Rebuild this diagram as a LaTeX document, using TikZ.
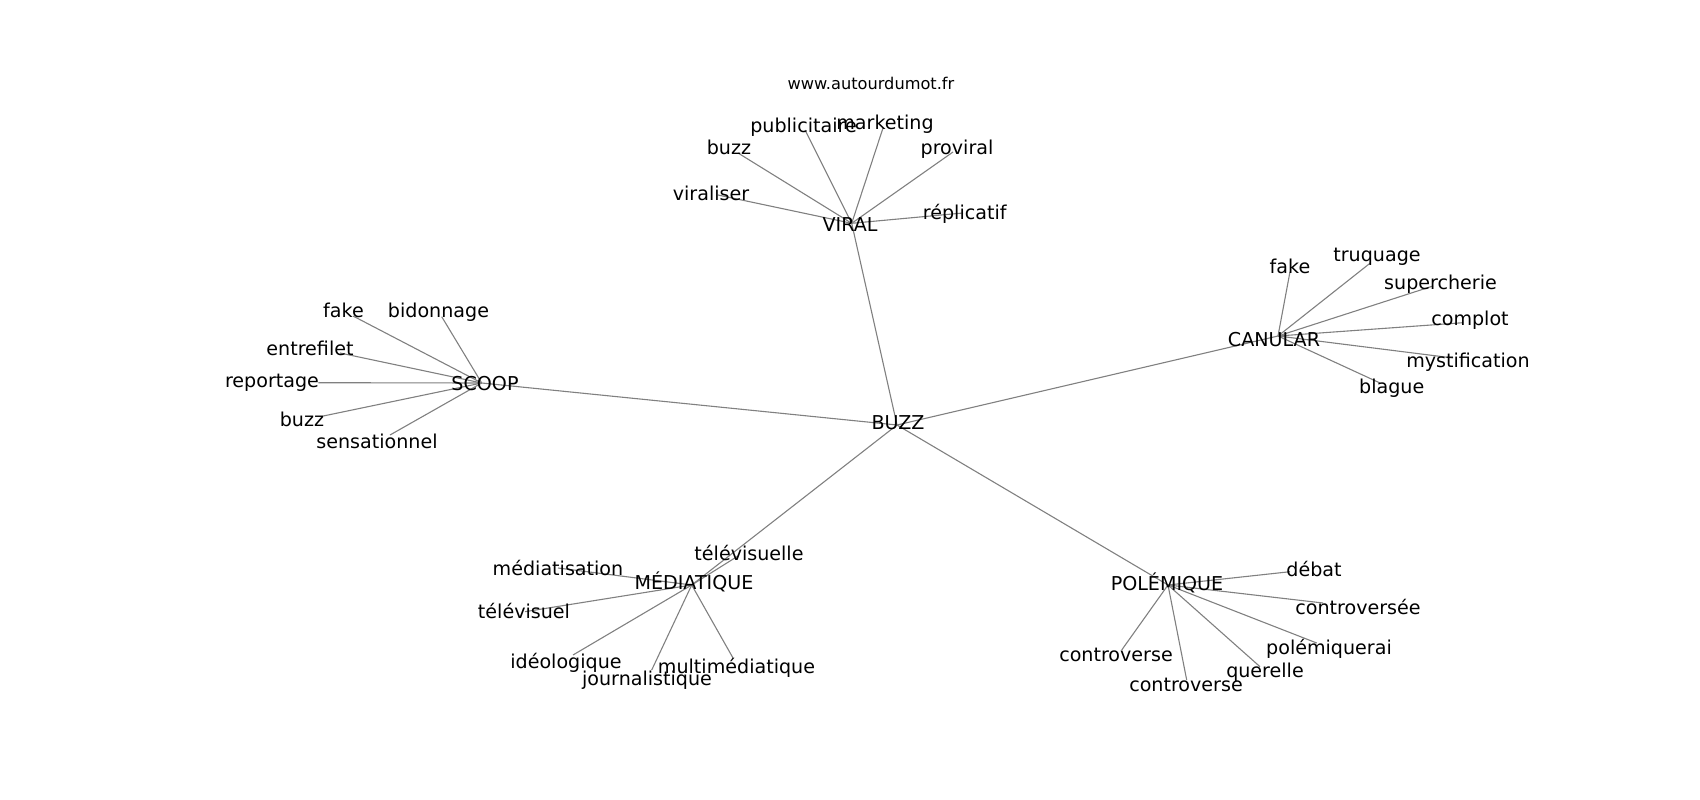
\documentclass[tikz,border=0pt]{standalone}
\usepackage{fontspec}
\setmainfont{DejaVu Sans}
\begin{document}
\begin{tikzpicture}[x=1pt,y=-1pt,
  edge/.style={draw=gray, line width=1.1pt},
  lbl/.style={inner sep=0pt, anchor=base, font=\fontsize{19.1}{23}\selectfont},
  ttl/.style={inner sep=0pt, anchor=base, font=\fontsize{16.2}{19}\selectfont}]
\useasboundingbox (0,0) rectangle (1700,800);
% hub points
\coordinate (buzz) at (897,425);
\coordinate (viral) at (851.7,223.3);
\coordinate (scoop) at (481.7,383);
\coordinate (canular) at (1278,336);
\coordinate (mediatique) at (691.7,585);
\coordinate (polemique) at (1168,585);
% viral leaves
\coordinate (v1) at (805,130);
\coordinate (v2) at (883,128);
\coordinate (v3) at (738,153);
\coordinate (v4) at (953,152);
\coordinate (v5) at (718,195);
\coordinate (v6) at (963,213);
% scoop leaves
\coordinate (s1) at (353,316);
\coordinate (s2) at (441.7,316.7);
\coordinate (s3) at (340,353);
\coordinate (s4) at (318.3,382.7);
\coordinate (s5) at (323.3,416);
\coordinate (s6) at (390,435);
% canular leaves
\coordinate (c1) at (1290,271.7);
\coordinate (c2) at (1370.7,262.7);
\coordinate (c3) at (1433,286);
\coordinate (c4) at (1463,322.7);
\coordinate (c5) at (1453,358);
\coordinate (c6) at (1380,383);
% mediatique leaves
\coordinate (m1) at (738,556);
\coordinate (m2) at (558,568);
\coordinate (m3) at (525,611.7);
\coordinate (m4) at (573,655);
\coordinate (m5) at (651.7,670);
\coordinate (m6) at (733,658);
% polemique leaves
\coordinate (p1) at (1290,571.7);
\coordinate (p2) at (1323,603);
\coordinate (p3) at (1316.7,643);
\coordinate (p4) at (1260,666.7);
\coordinate (p5) at (1121.7,650);
\coordinate (p6) at (1186.7,680);
% edges
\foreach \h in {viral,scoop,canular,mediatique,polemique} \draw[edge] (buzz) -- (\h);
\foreach \l in {v1,v2,v3,v4,v5,v6} \draw[edge] (viral) -- (\l);
\foreach \l in {s1,s2,s3,s4,s5,s6} \draw[edge] (scoop) -- (\l);
\foreach \l in {c1,c2,c3,c4,c5,c6} \draw[edge] (canular) -- (\l);
\foreach \l in {m1,m2,m3,m4,m5,m6} \draw[edge] (mediatique) -- (\l);
\foreach \l in {p1,p2,p3,p4,p5,p6} \draw[edge] (polemique) -- (\l);
% title
\node[ttl] (title) at (871,89) {www.autourdumot.fr};
% labels
\node[lbl] (buzzL) at (898,429) {BUZZ};
\node[lbl] (viralL) at (850,231.5) {VIRAL};
\node[lbl] (scoopL) at (485,390) {SCOOP};
\node[lbl] (canularL) at (1274,346.5) {CANULAR};
\node[lbl] (mediatiqueL) at (694,589) {MÉDIATIQUE};
\node[lbl] (polemiqueL) at (1167,590) {POLÉMIQUE};
\node[lbl] (v1L) at (803.5,132) {publicitaire};
\node[lbl] (v2L) at (885,129) {marketing};
\node[lbl] (v3L) at (729,154) {buzz};
\node[lbl] (v4L) at (957,154) {proviral};
\node[lbl] (v5L) at (711,200) {viraliser};
\node[lbl] (v6L) at (964.7,219) {réplicatif};
\node[lbl] (s1L) at (343.5,317) {fake};
\node[lbl] (s2L) at (438.5,317) {bidonnage};
\node[lbl] (s3L) at (310,355) {entrefilet};
\node[lbl] (s4L) at (272,387.5) {reportage};
\node[lbl] (s5L) at (302,426.5) {buzz};
\node[lbl] (s6L) at (377,448) {sensationnel};
\node[lbl] (c1L) at (1290,273) {fake};
\node[lbl] (c2L) at (1377,261) {truquage};
\node[lbl] (c3L) at (1440.5,289) {supercherie};
\node[lbl] (c4L) at (1470,325) {complot};
\node[lbl] (c5L) at (1468,367) {mystification};
\node[lbl] (c6L) at (1391.7,393.5) {blague};
\node[lbl] (m1L) at (749,560) {télévisuelle};
\node[lbl] (m2L) at (558,575) {médiatisation};
\node[lbl] (m3L) at (524,618) {télévisuel};
\node[lbl] (m4L) at (566,668) {idéologique};
\node[lbl] (m5L) at (647,685) {journalistique};
\node[lbl] (m6L) at (736.5,673) {multimédiatique};
\node[lbl] (p1L) at (1314,576) {débat};
\node[lbl] (p2L) at (1358,614) {controversée};
\node[lbl] (p3L) at (1329,654) {polémiquerai};
\node[lbl] (p4L) at (1265,677) {querelle};
\node[lbl] (p5L) at (1116,661) {controverse};
\node[lbl] (p6L) at (1186,691.5) {controverse};
\end{tikzpicture}
\end{document}
